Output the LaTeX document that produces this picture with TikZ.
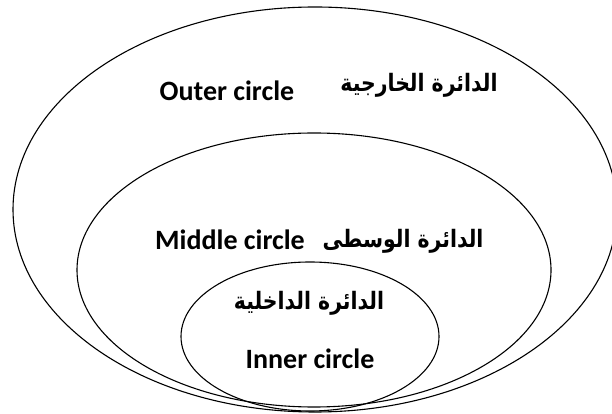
\documentclass[tikz,border=0pt]{standalone}
\usepackage{fontspec}
\setmainfont{Carlito}
\newfontfamily\arabicfont[Script=Arabic,FakeStretch=0.85]{DejaVu Sans}
\TeXXeTstate=1
\usetikzlibrary{shapes.geometric}
\begin{document}
\begin{tikzpicture}[x=1pt,y=1pt,
  ring/.style={draw=black, line width=1.1pt, ellipse, inner sep=0pt},
  entext/.style={font=\fontsize{28}{30}\selectfont\bfseries, inner sep=0pt, anchor=base},
  artext/.style={font=\arabicfont\fontsize{24}{28}\selectfont\bfseries, inner sep=0pt, anchor=base}]
\useasboundingbox (0,0) rectangle (612,414);
\node[ring, minimum width=604pt, minimum height=405pt] (outer) at (315,204.5) {};
\node[ring, minimum width=474pt, minimum height=274pt] (middle) at (314,144) {};
\node[ring, minimum width=258pt, minimum height=149pt] (inner) at (310,77.5) {};
\node[entext] (outerEn) at (227,313) {Outer circle};
\node[artext] (outerAr) at (419,322) {\beginR الدائرة الخارجية\endR};
\node[entext] (middleEn) at (230,164) {Middle circle};
\node[artext] (middleAr) at (403,166) {\beginR الدائرة الوسطى\endR};
\node[artext] (innerAr) at (309,104) {\beginR الدائرة الداخلية\endR};
\node[entext] (innerEn) at (310,45) {Inner circle};
\end{tikzpicture}
\end{document}
